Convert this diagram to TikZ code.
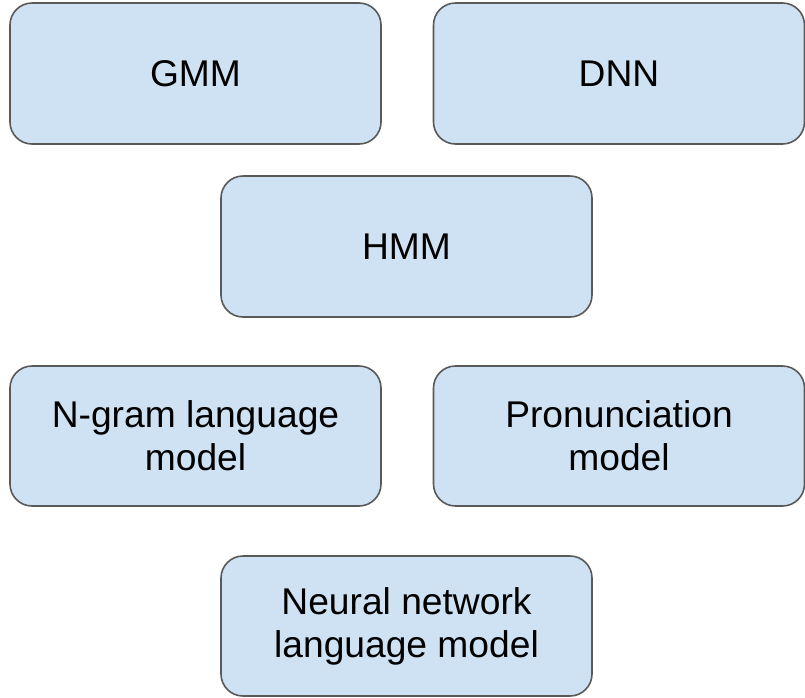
\documentclass[tikz,border=0pt]{standalone}
\usepackage{fontspec}
\setmainfont{Liberation Sans}
\definecolor{boxfill}{HTML}{CFE2F3}
\definecolor{boxline}{HTML}{595959}
\begin{document}
\begin{tikzpicture}[x=1pt,y=1pt,
  block/.style={draw=boxline, fill=boxfill, line width=1.6pt,
    rounded corners=22pt, minimum width=371pt, minimum height=141pt,
    inner sep=0pt, align=center, text=black,
    font=\fontsize{37.2}{43}\selectfont}]
  \useasboundingbox (0,0) rectangle (805,-697);
  % acoustic models
  \node[block] (gmm) at (195.5,-73.5) {GMM};
  \node[block] (dnn) at (619,-73.5) {DNN};
  \node[block] (hmm) at (406.5,-246.5) {HMM};
  % language and lexicon models
  \node[block, minimum height=140pt] (ngram) at (195.5,-436) {N-gram language\\model};
  \node[block, minimum height=140pt] (pron) at (619,-436) {Pronunciation\\model};
  \node[block, minimum height=140pt] (nnlm) at (406.5,-626) {Neural network\\language model};
\end{tikzpicture}
\end{document}
